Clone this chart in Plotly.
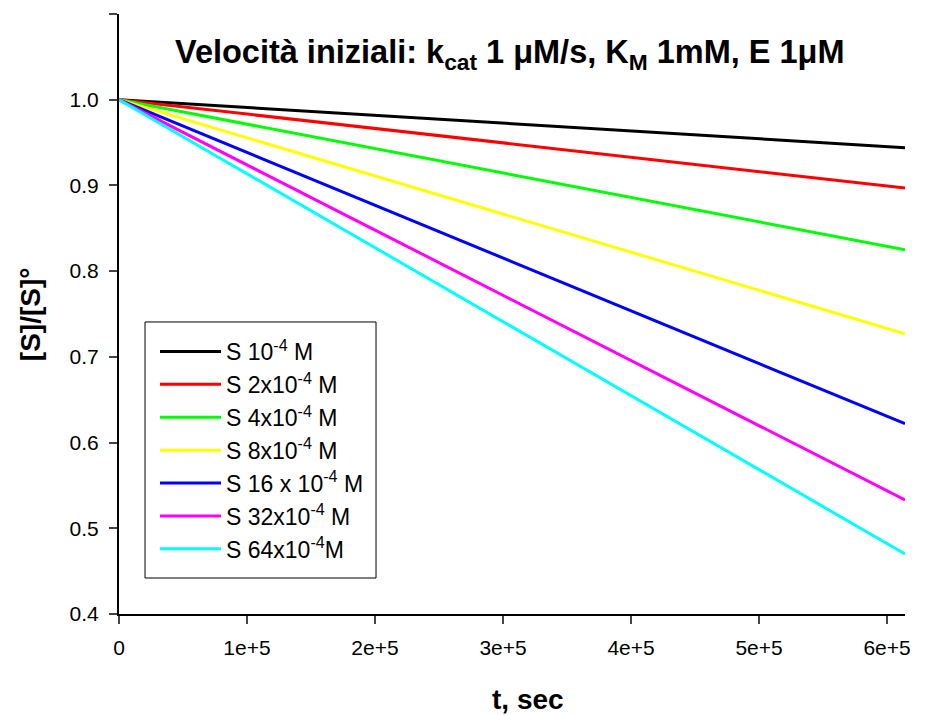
import plotly.graph_objects as go

t = [0, 6.14e5]
names = ["S 10<sup>-4</sup> M", "S 2x10<sup>-4</sup> M", "S 4x10<sup>-4</sup> M",
         "S 8x10<sup>-4</sup> M", "S 16 x 10<sup>-4</sup> M", "S 32x10<sup>-4</sup> M",
         "S 64x10<sup>-4</sup>M"]
end_vals = [0.944, 0.897, 0.825, 0.727, 0.622, 0.533, 0.470]
colors = ["#000000", "#ff0000", "#00ff00", "#ffff00", "#0000ff", "#ff00ff", "#00ffff"]
x_ticks = [0, 1e5, 2e5, 3e5, 4e5, 5e5, 6e5]
x_ticktext = ["0", "1e+5", "2e+5", "3e+5", "4e+5", "5e+5", "6e+5"]

fig = go.Figure()
for i, (n, v, c) in enumerate(zip(names, end_vals, colors)):
    fig.add_trace(go.Scatter(x=t, y=[1.0, v], mode="lines", name=n,
                             line=dict(color=c, width=3), legendgroup=str(i)))

font = "Liberation Sans, Arial, sans-serif"
fig.update_layout(
    width=935, height=715,
    margin=dict(l=111, r=38, t=6, b=109),
    paper_bgcolor="white", plot_bgcolor="white",
    font=dict(family=font, size=22, color="black"),
    showlegend=True,
    legend=dict(x=0.0458, y=0.4733, xanchor="left", yanchor="top",
                borderwidth=0, bgcolor="rgba(0,0,0,0)",
                font=dict(size=23), tracegroupgap=0, itemwidth=61),
    xaxis=dict(range=[0, 6.14e5], tickvals=x_ticks, ticktext=x_ticktext,
               showline=True, linecolor="black", linewidth=2, ticks="outside",
               ticklen=8, tickwidth=1.5, showgrid=False, zeroline=False,
               automargin=False, ticklabelstandoff=6,
               tickfont=dict(size=21)),
    yaxis=dict(range=[0.4, 1.1], dtick=0.1, tickformat=".1f",
               showline=True, linecolor="black", linewidth=2, ticks="outside",
               ticklen=8, tickwidth=1.5, showgrid=False, zeroline=False,
               automargin=False, ticklabelstandoff=6,
               tickfont=dict(size=21)),
    shapes=[dict(type="rect", xref="paper", yref="paper",
                 x0=0.0331, x1=0.327, y0=0.06, y1=0.4867,
                 line=dict(color="black", width=1), fillcolor="white", layer="below")],
    annotations=[
        dict(text="<b>Velocità iniziali: k<sub>cat</sub> 1 μM/s, K<sub>M</sub> 1mM, E 1μM</b>",
             x=0.497, y=0.933, xref="paper", yref="paper", showarrow=False,
             font=dict(size=32.5), xanchor="center", yanchor="middle"),
        dict(text="<b>t, sec</b>", x=0.52, y=-0.143, xref="paper", yref="paper",
             showarrow=False, font=dict(size=28), xanchor="center", yanchor="middle"),
        dict(text="<b>[S]/[S]°</b>", x=-0.113, y=0.5, xref="paper", yref="paper",
             showarrow=False, font=dict(size=28), textangle=-90,
             xanchor="center", yanchor="middle"),
    ],
)
fig.write_html("out.html")
